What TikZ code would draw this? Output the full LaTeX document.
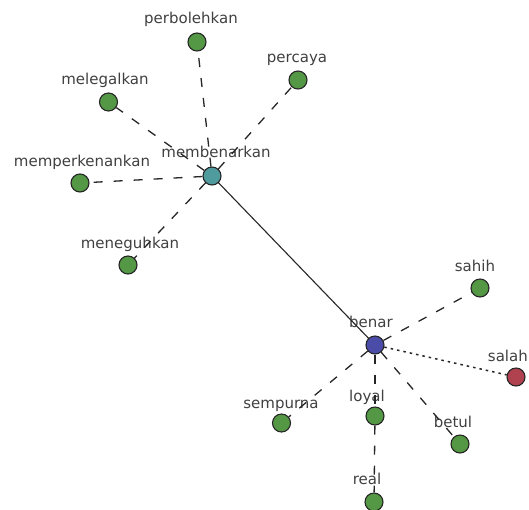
\documentclass[tikz,border=0pt]{standalone}
\usepackage{fontspec}
\setmainfont{DejaVu Sans}
\begin{document}
\begin{tikzpicture}[x=1pt,y=-1pt,
  vtx/.style={circle,draw=black!85,line width=1.1pt,minimum size=18pt,inner sep=0pt},
  lbl/.style={anchor=base,inner sep=0pt,text=black!75,font=\fontsize{15}{18}\selectfont},
  dashedge/.style={draw=black!85,line width=1.3pt,dash pattern=on 9pt off 11pt},
  dotedge/.style={draw=black!85,line width=1.5pt,dash pattern=on 2.5pt off 4pt},
  solidedge/.style={draw=black!85,line width=1.1pt}]
\definecolor{vgreen}{RGB}{84,152,70}
\definecolor{vteal}{RGB}{80,155,158}
\definecolor{vblue}{RGB}{74,76,168}
\definecolor{vred}{RGB}{176,66,80}
\useasboundingbox (0,0) rectangle (529,509);
\clip (0,0) rectangle (529,509);
% vertices
\node[vtx,fill=vgreen] (perbolehkan) at (197,42) {};
\node[vtx,fill=vgreen] (percaya) at (298,80) {};
\node[vtx,fill=vgreen] (melegalkan) at (108.5,102) {};
\node[vtx,fill=vgreen] (memperkenankan) at (80,183) {};
\node[vtx,fill=vteal] (membenarkan) at (212,176) {};
\node[vtx,fill=vgreen] (meneguhkan) at (128,265) {};
\node[vtx,fill=vgreen] (sahih) at (480,288) {};
\node[vtx,fill=vblue] (benar) at (375,345) {};
\node[vtx,fill=vred] (salah) at (516,377) {};
\node[vtx,fill=vgreen] (sempurna) at (281.5,423) {};
\node[vtx,fill=vgreen] (loyal) at (375,416) {};
\node[vtx,fill=vgreen] (betul) at (460,444) {};
\node[vtx,fill=vgreen] (real) at (374,502) {};
% labels
\node[lbl] (l-perbolehkan) at (191,23) {perbolehkan};
\node[lbl] (l-percaya) at (297,62) {percaya};
\node[lbl] (l-melegalkan) at (105,84) {melegalkan};
\node[lbl] (l-memperkenankan) at (82,166.5) {memperkenankan};
\node[lbl] (l-membenarkan) at (216,157) {membenarkan};
\node[lbl] (l-meneguhkan) at (130,248) {meneguhkan};
\node[lbl] (l-sahih) at (475,271) {sahih};
\node[lbl] (l-benar) at (371,327) {benar};
\node[lbl,anchor=base east] (l-salah) at (528,361) {salah};
\node[lbl] (l-sempurna) at (281,408) {sempurna};
\node[lbl] (l-loyal) at (367,401) {loyal};
\node[lbl] (l-betul) at (453,427) {betul};
\node[lbl] (l-real) at (367,484) {real};
% edges
\draw[solidedge] (membenarkan) -- (benar);
\draw[dashedge] (membenarkan) -- (perbolehkan);
\draw[dashedge] (membenarkan) -- (percaya);
\draw[dashedge] (membenarkan) -- (melegalkan);
\draw[dashedge] (membenarkan) -- (memperkenankan);
\draw[dashedge] (membenarkan) -- (meneguhkan);
\draw[dashedge] (benar) -- (sahih);
\draw[dashedge] (benar) -- (sempurna);
\draw[dashedge] (benar) -- (loyal);
\draw[dashedge] (benar) -- (betul);
\draw[dashedge] (loyal) -- (real);
\draw[dotedge] (benar) -- (salah);
\end{tikzpicture}
\end{document}
